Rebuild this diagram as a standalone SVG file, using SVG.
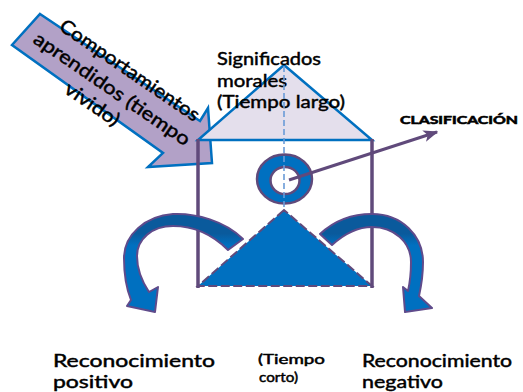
<svg xmlns="http://www.w3.org/2000/svg" width="523" height="392" viewBox="0 0 523 392">
<style>
.t{font-family:Lato,"Open Sans","Liberation Sans",sans-serif;fill:#000;stroke:#000;stroke-width:0.45}
.wall{stroke:#604A7B;stroke-width:3.5;fill:none}
.curv{stroke:#5F4B8B;stroke-width:2;stroke-linejoin:round}
</style>
<defs>
<linearGradient id="gl" x1="0" y1="0" x2="0" y2="1">
<stop offset="0" stop-color="#0A5A9C"/>
<stop offset="0.2" stop-color="#0A5A9C"/>
<stop offset="0.32" stop-color="#0070C0"/>
<stop offset="1" stop-color="#0070C0"/>
</linearGradient>
<marker id="ah" viewBox="0 0 10 8" refX="9" refY="4" markerWidth="5" markerHeight="4" orient="auto" markerUnits="strokeWidth">
<path d="M0,0 L10,4 L0,8 L2.5,4 Z" fill="#604A7B"/>
</marker>
</defs>
<rect width="523" height="392" fill="#fff"/>

<g id="node-comportamientos">
<polygon points="40,14 200,121 208,108 212,163 148,167 163,153 12,45" fill="#B2A1C7" stroke="#0070C0" stroke-width="2.5" stroke-linejoin="miter"/>
<text class="t" font-size="19" transform="translate(58,29) rotate(34.4)" textLength="165" lengthAdjust="spacingAndGlyphs">Comportamientos</text>
<text class="t" font-size="19" transform="translate(32,42) rotate(34.4)" textLength="185" lengthAdjust="spacingAndGlyphs">aprendidos (tiempo</text>
<text class="t" font-size="19" transform="translate(63,92) rotate(34.4)" textLength="62" lengthAdjust="spacingAndGlyphs">vivido)</text>
</g>

<g id="node-roof">
<polygon points="284,65 198,140 372,140" fill="#E4DFEC" stroke="#0070C0" stroke-width="2.5" stroke-linejoin="miter"/>
<text class="t" font-size="17" x="217" y="65" textLength="104" lengthAdjust="spacingAndGlyphs">Significados</text>
<text class="t" font-size="17" x="217" y="87" textLength="70" lengthAdjust="spacingAndGlyphs">morales</text>
<text class="t" font-size="17" x="217" y="108" textLength="128" lengthAdjust="spacingAndGlyphs">(Tiempo largo)</text>
</g>

<g id="node-house">
<line class="wall" x1="198" y1="139" x2="198" y2="288"/>
<line class="wall" x1="372" y1="139" x2="372" y2="288"/>
</g>

<g id="node-triangle">
<polygon points="284,210 198,286 372,286" fill="#0070C0" stroke="#604A7B" stroke-width="2" stroke-dasharray="9,3.5"/>
</g>

<g id="node-ring">
<path d="M257,179 a27.5,24.5 0 1,0 55,0 a27.5,24.5 0 1,0 -55,0 Z M270.5,180.5 a14.5,13.5 0 1,1 29,0 a14.5,13.5 0 1,1 -29,0 Z" fill="#0070C0" fill-rule="evenodd" stroke="#604A7B" stroke-width="2.5"/>
</g>

<g id="connectors">
<line x1="284" y1="66" x2="284" y2="210" stroke="#6A9BD8" stroke-width="1.6" stroke-dasharray="6,3"/>
<line x1="289" y1="180" x2="437" y2="132" stroke="#604A7B" stroke-width="3" marker-end="url(#ah)"/>
</g>

<g id="node-clasificacion">
<text class="t" font-size="11.5" font-weight="bold" style="stroke-width:0.6" x="400" y="124" textLength="118" lengthAdjust="spacingAndGlyphs">CLASIFICACIÓN</text>
</g>

<g id="node-left-arrow">
<path class="curv" fill="url(#gl)" d="M243,239 C225,221 196,213 173,214 C145,216 124,235 124,258 C124,275 127,290 131,300 L127,306 L155,312 L158,287 L149,292 C141,280 137,268 137,256 C137,239 152,226 173,226 C195,226 214,236 228,250 Z"/>
<text class="t" font-size="17" x="53" y="367" textLength="162" lengthAdjust="spacingAndGlyphs">Reconocimiento</text>
<text class="t" font-size="17" x="53" y="388" textLength="80" lengthAdjust="spacingAndGlyphs">positivo</text>
</g>

<g id="node-right-arrow">
<path class="curv" fill="url(#gl)" d="M320,234 C335,220 352,214 372,214 C402,214 423,236 423,262 C423,276 421,287 419,296 L432,308 L405,312 L403,287 L408,291 C410,282 411,272 411,262 C411,242 394,227 372,227 C357,227 343,235 332,245 Z"/>
<text class="t" font-size="17" x="362" y="367" textLength="150" lengthAdjust="spacingAndGlyphs">Reconocimiento</text>
<text class="t" font-size="17" x="362" y="388" textLength="81" lengthAdjust="spacingAndGlyphs">negativo</text>
</g>

<g id="node-tiempo-corto">
<text class="t" font-size="12.5" x="258" y="364" textLength="67" lengthAdjust="spacingAndGlyphs">(Tiempo</text>
<text class="t" font-size="12.5" x="259" y="382" textLength="39" lengthAdjust="spacingAndGlyphs">corto)</text>
</g>
</svg>
